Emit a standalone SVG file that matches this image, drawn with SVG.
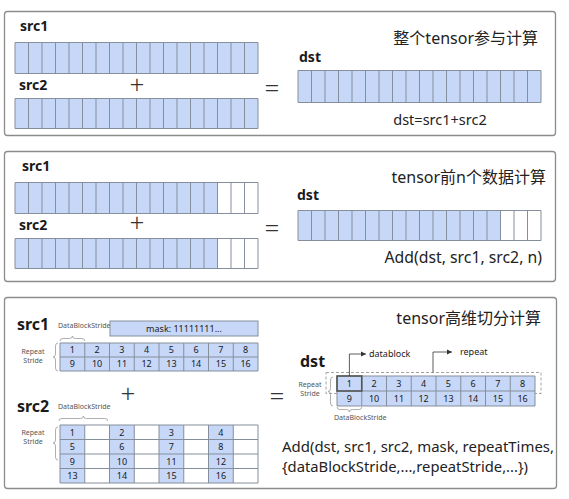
<svg xmlns="http://www.w3.org/2000/svg" width="569" height="499" viewBox="0 0 569 499">
<defs>
<style>
text{font-family:"Noto Sans","Noto Sans CJK SC",sans-serif;fill:#1a1a1a}
.panel{fill:#fff;stroke:#8c8c8c;stroke-width:1.3}
.lbl{font-weight:bold;font-size:14px}
.lbl3{font-weight:bold;font-size:16px}
.title{font-size:16px;text-anchor:end;fill:#222}
.formula{fill:#222}
.op{font-size:26px;font-weight:300;text-anchor:middle;fill:#333}
.blue{fill:#c6d7f7}
.white{fill:#fff}
.outline{fill:none;stroke:#858f9c;stroke-width:1}
.num{font-size:9px;text-anchor:middle}
.tiny{font-size:7px;fill:#555}
.tinyc{font-size:7px;fill:#555;text-anchor:middle}
.brace{fill:none;stroke:#9a9a9a;stroke-width:0.8}
.conn{fill:none;stroke:#333;stroke-width:0.8}
.dash{fill:none;stroke:#999;stroke-width:0.9;stroke-dasharray:3 2}
</style>
<marker id="ah" markerWidth="6" markerHeight="6" refX="5" refY="3" orient="auto" markerUnits="userSpaceOnUse">
<path d="M0,0.5 L5,3 L0,5.5 Z" fill="#333"/>
</marker>
</defs>

<!-- Panel 1 -->
<g id="panel1">
<rect class="panel" x="4.5" y="11.5" width="551" height="124" rx="3"/>
<text class="title" x="538" y="44">整个tensor参与计算</text>
<text class="formula" x="440" y="125" text-anchor="middle" font-size="14.5">dst=src1+src2</text>
<text class="op" x="137" y="94">+</text>
<text class="op" x="272" y="97">=</text>
</g>
<g id="p1-src1">
<text class="lbl" x="20" y="31">src1</text>
<rect class="blue" x="15" y="42" width="243" height="31"/>
<path class="outline" d="M15,42.5h243v31h-243z M28.5,42.5v31 M42,42.5v31 M55.5,42.5v31 M69,42.5v31 M82.5,42.5v31 M96,42.5v31 M109.5,42.5v31 M123,42.5v31 M136.5,42.5v31 M150,42.5v31 M163.5,42.5v31 M177,42.5v31 M190.5,42.5v31 M204,42.5v31 M217.5,42.5v31 M231,42.5v31 M244.5,42.5v31"/>
</g>
<g id="p1-src2">
<text class="lbl" x="19" y="90">src2</text>
<rect class="blue" x="15" y="98" width="243" height="30"/>
<path class="outline" d="M15,98.5h243v30h-243z M28.5,98.5v30 M42,98.5v30 M55.5,98.5v30 M69,98.5v30 M82.5,98.5v30 M96,98.5v30 M109.5,98.5v30 M123,98.5v30 M136.5,98.5v30 M150,98.5v30 M163.5,98.5v30 M177,98.5v30 M190.5,98.5v30 M204,98.5v30 M217.5,98.5v30 M231,98.5v30 M244.5,98.5v30"/>
</g>
<g id="p1-dst">
<text class="lbl" x="299" y="62">dst</text>
<rect class="blue" x="298" y="70" width="243" height="32"/>
<path class="outline" d="M298,70.5h243v32h-243z M311.5,70.5v32 M325,70.5v32 M338.5,70.5v32 M352,70.5v32 M365.5,70.5v32 M379,70.5v32 M392.5,70.5v32 M406,70.5v32 M419.5,70.5v32 M433,70.5v32 M446.5,70.5v32 M460,70.5v32 M473.5,70.5v32 M487,70.5v32 M500.5,70.5v32 M514,70.5v32 M527.5,70.5v32"/>
</g>

<!-- Panel 2 -->
<g id="panel2">
<rect class="panel" x="4.5" y="151.5" width="551" height="130" rx="3"/>
<text class="title" x="546" y="183">tensor前n个数据计算</text>
<text class="formula" x="542" y="263" text-anchor="end" font-size="15.8">Add(dst, src1, src2, n)</text>
<text class="op" x="137" y="232">+</text>
<text class="op" x="272" y="237">=</text>
</g>
<g id="p2-src1">
<text class="lbl" x="22" y="171">src1</text>
<rect class="blue" x="15" y="182" width="202.5" height="31"/>
<path class="outline" d="M15,182.5h243v31h-243z M28.5,182.5v31 M42,182.5v31 M55.5,182.5v31 M69,182.5v31 M82.5,182.5v31 M96,182.5v31 M109.5,182.5v31 M123,182.5v31 M136.5,182.5v31 M150,182.5v31 M163.5,182.5v31 M177,182.5v31 M190.5,182.5v31 M204,182.5v31 M217.5,182.5v31 M231,182.5v31 M244.5,182.5v31"/>
</g>
<g id="p2-src2">
<text class="lbl" x="19" y="230">src2</text>
<rect class="blue" x="15" y="238" width="202.5" height="30"/>
<path class="outline" d="M15,238.5h243v30h-243z M28.5,238.5v30 M42,238.5v30 M55.5,238.5v30 M69,238.5v30 M82.5,238.5v30 M96,238.5v30 M109.5,238.5v30 M123,238.5v30 M136.5,238.5v30 M150,238.5v30 M163.5,238.5v30 M177,238.5v30 M190.5,238.5v30 M204,238.5v30 M217.5,238.5v30 M231,238.5v30 M244.5,238.5v30"/>
</g>
<g id="p2-dst">
<text class="lbl" x="297" y="200">dst</text>
<rect class="blue" x="298" y="210" width="202.5" height="30"/>
<path class="outline" d="M298,210.5h243v30h-243z M311.5,210.5v30 M325,210.5v30 M338.5,210.5v30 M352,210.5v30 M365.5,210.5v30 M379,210.5v30 M392.5,210.5v30 M406,210.5v30 M419.5,210.5v30 M433,210.5v30 M446.5,210.5v30 M460,210.5v30 M473.5,210.5v30 M487,210.5v30 M500.5,210.5v30 M514,210.5v30 M527.5,210.5v30"/>
</g>

<!-- Panel 3 -->
<g id="panel3">
<rect class="panel" x="4.5" y="297.5" width="552" height="191" rx="3"/>
<text class="title" x="541" y="324">tensor高维切分计算</text>
<text class="op" x="128" y="403">+</text>
<text class="op" x="277" y="405">=</text>
<text class="formula" x="282" y="452" font-size="15.2" textLength="272" lengthAdjust="spacingAndGlyphs">Add(dst, src1, src2, mask, repeatTimes,</text>
<text class="formula" x="282" y="472" font-size="15.2" textLength="246" lengthAdjust="spacingAndGlyphs">{dataBlockStride,...,repeatStride,...})</text>
</g>

<g id="p3-src1">
<text class="lbl3" x="17" y="330">src1</text>
<text class="tiny" x="58" y="328">DataBlockStride</text>
<rect class="blue" x="110" y="321" width="148" height="15" stroke="#858f9c" stroke-width="1"/>
<text x="184" y="332" font-size="9" text-anchor="middle">mask:  11111111...</text>
<path class="brace" d="M60,341 Q60,338.5 63,338.5 H69.4 Q72.4,338.5 72.4,336 Q72.4,338.5 75.4,338.5 H81.8 Q84.8,338.5 84.8,341"/>
<path class="brace" d="M58,343 Q55.5,343 55.5,346 V354 Q55.5,357 53,357 Q55.5,357 55.5,360 V368 Q55.5,371 58,371"/>
<text class="tinyc" x="33" y="354">Repeat</text>
<text class="tinyc" x="33" y="363">Stride</text>
<rect class="blue" x="60" y="343" width="198" height="28"/>
<path class="outline" d="M60,343h198v28h-198z M60,357h198 M84.75,343v28 M109.5,343v28 M134.25,343v28 M159,343v28 M183.75,343v28 M208.5,343v28 M233.25,343v28"/>
<g class="num">
<text x="72.4" y="353">1</text><text x="97.1" y="353">2</text><text x="121.9" y="353">3</text><text x="146.6" y="353">4</text><text x="171.4" y="353">5</text><text x="196.1" y="353">6</text><text x="220.9" y="353">7</text><text x="245.6" y="353">8</text>
<text x="72.4" y="367">9</text><text x="97.1" y="367">10</text><text x="121.9" y="367">11</text><text x="146.6" y="367">12</text><text x="171.4" y="367">13</text><text x="196.1" y="367">14</text><text x="220.9" y="367">15</text><text x="245.6" y="367">16</text>
</g>
</g>

<g id="p3-src2">
<text class="lbl3" x="17" y="412">src2</text>
<text class="tiny" x="58" y="409">DataBlockStride</text>
<path class="brace" d="M59,421 Q59,418.5 62,418.5 H80.4 Q83.4,418.5 83.4,416 Q83.4,418.5 86.4,418.5 H104.8 Q107.8,418.5 107.8,421"/>
<path class="brace" d="M58,427 Q55.5,427 55.5,430 V440 Q55.5,443 53,443 Q55.5,443 55.5,446 V457 Q55.5,460 58,460"/>
<text class="tinyc" x="33" y="435">Repeat</text>
<text class="tinyc" x="33" y="444">Stride</text>
<rect class="blue" x="60" y="425" width="24.75" height="58"/>
<rect class="blue" x="109.5" y="425" width="24.75" height="58"/>
<rect class="blue" x="159" y="425" width="24.75" height="58"/>
<rect class="blue" x="208.5" y="425" width="24.75" height="58"/>
<path class="outline" d="M60,425h198v58h-198z M60,439.5h198 M60,454h198 M60,468.5h198 M84.75,425v58 M109.5,425v58 M134.25,425v58 M159,425v58 M183.75,425v58 M208.5,425v58 M233.25,425v58"/>
<g class="num">
<text x="72.4" y="435.5">1</text><text x="121.9" y="435.5">2</text><text x="171.4" y="435.5">3</text><text x="220.9" y="435.5">4</text>
<text x="72.4" y="450">5</text><text x="121.9" y="450">6</text><text x="171.4" y="450">7</text><text x="220.9" y="450">8</text>
<text x="72.4" y="464.5">9</text><text x="121.9" y="464.5">10</text><text x="171.4" y="464.5">11</text><text x="220.9" y="464.5">12</text>
<text x="72.4" y="479">13</text><text x="121.9" y="479">14</text><text x="171.4" y="479">15</text><text x="220.9" y="479">16</text>
</g>
</g>

<g id="p3-dst">
<text class="lbl3" x="300" y="367">dst</text>
<rect class="dash" x="326" y="372.5" width="215" height="21"/>
<path class="brace" d="M333,377 Q330.5,377 330.5,380 V388.5 Q330.5,391.5 328,391.5 Q330.5,391.5 330.5,394.5 V403 Q330.5,406 333,406"/>
<text class="tinyc" x="310" y="387">Repeat</text>
<text class="tinyc" x="310" y="396">Stride</text>
<rect class="blue" x="337" y="376" width="198" height="30"/>
<path class="outline" d="M337,376h198v30h-198z M337,391h198 M361.75,376v30 M386.5,376v30 M411.25,376v30 M436,376v30 M460.75,376v30 M485.5,376v30 M510.25,376v30"/>
<rect x="337" y="376" width="24.75" height="15" fill="none" stroke="#555" stroke-width="1.6"/>
<g class="num">
<text x="349.4" y="387">1</text><text x="374.1" y="387">2</text><text x="398.9" y="387">3</text><text x="423.6" y="387">4</text><text x="448.4" y="387">5</text><text x="473.1" y="387">6</text><text x="497.9" y="387">7</text><text x="522.6" y="387">8</text>
<text x="349.4" y="402">9</text><text x="374.1" y="402">10</text><text x="398.9" y="402">11</text><text x="423.6" y="402">12</text><text x="448.4" y="402">13</text><text x="473.1" y="402">14</text><text x="497.9" y="402">15</text><text x="522.6" y="402">16</text>
</g>
<path class="brace" d="M337,407 Q337,409.5 340,409.5 H346.4 Q349.4,409.5 349.4,412 Q349.4,409.5 352.4,409.5 H358.8 Q361.8,409.5 361.8,407"/>
<text class="tiny" x="334" y="420">DataBlockStride</text>
</g>

<g id="connectors">
<path class="conn" d="M349.4,376 V354 H366" marker-end="url(#ah)"/>
<text x="369" y="357" font-size="9">datablock</text>
<path class="conn" d="M433,372.5 V352 H452" marker-end="url(#ah)"/>
<text x="460" y="355" font-size="9">repeat</text>
</g>
</svg>
